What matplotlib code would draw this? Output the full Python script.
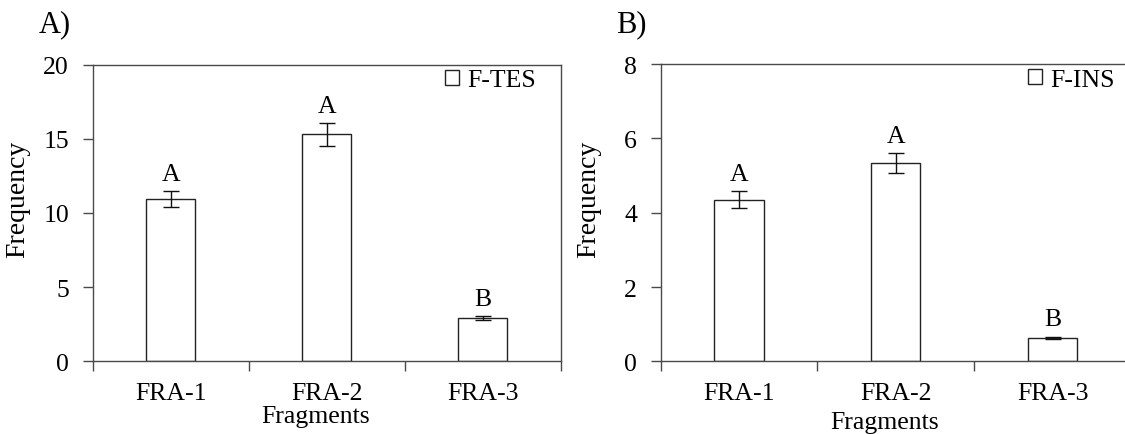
import matplotlib
matplotlib.use("Agg")
import matplotlib.pyplot as plt
import numpy as np

# =====================
# Data
# =====================
fragments = ["FRA-1", "FRA-2", "FRA-3"]

tes_mean = [10.93, 15.32, 2.90]
tes_err = [0.55, 0.78, 0.15]
tes_letters = ["A", "A", "B"]

ins_mean = [4.35, 5.35, 0.64]
ins_err = [0.23, 0.27, 0.03]
ins_letters = ["A", "A", "B"]

plt.rcParams["font.family"] = ["Liberation Serif", "DejaVu Serif"]

frame_col = "#4a4a4a"


def draw_panel(ax, means, errs, letters, label, ymax, step, ylab_x, xlab_y, leg_x):
    x = np.arange(len(means)) + 0.5
    bars = ax.bar(x, means, width=0.314, color="white", edgecolor="#222222",
                  linewidth=1.0, label=label, zorder=2)
    ax.errorbar(x, means, yerr=errs, fmt="none", ecolor="#111111",
                elinewidth=1.0, capsize=6, capthick=1.0, zorder=3)
    for xi, m, e, t in zip(x, means, errs, letters):
        ax.annotate(t, (xi, m + e), xytext=(0, 8), textcoords="offset points",
                    ha="center", va="baseline", fontsize=18.5)

    ax.set_xlim(0, 3)
    ax.set_ylim(0, ymax)
    ax.set_yticks(np.arange(0, ymax + step / 2, step))
    ax.set_xticks(x)
    ax.set_xticklabels(fragments)
    ax.set_xticks([0, 1, 2, 3], minor=True)
    ax.tick_params(axis="x", which="major", length=0, pad=15, labelsize=18.5)
    ax.tick_params(axis="x", which="minor", length=7, width=1, color=frame_col,
                   direction="out")
    ax.tick_params(axis="y", length=7, width=1, color=frame_col, pad=10,
                   labelsize=18.5, direction="out")

    for s in ax.spines.values():
        s.set_color(frame_col)
        s.set_linewidth(1.0)

    ax.set_ylabel("Frequency", fontsize=20)
    ax.yaxis.set_label_coords(ylab_x, 0.55)
    ax.set_xlabel("Fragments", fontsize=18.5)
    ax.xaxis.set_label_coords(0.477, xlab_y)

    ax.legend(handles=[bars], loc="upper left", bbox_to_anchor=(leg_x, 0.985),
              frameon=False, fontsize=18.5, handlelength=0.55, handleheight=0.55,
              handletextpad=0.3, borderpad=0, borderaxespad=0)


fig = plt.figure(figsize=(11.25, 4.35), dpi=100)

axA = fig.add_axes([0.0824, 0.1678, 0.416, 0.6805])
draw_panel(axA, tes_mean, tes_err, tes_letters, "F-TES", 20, 5, -0.133, -0.15, 0.753)

axB = fig.add_axes([0.5873, 0.1667, 0.418, 0.6835])
draw_panel(axB, ins_mean, ins_err, ins_letters, "F-INS", 8, 2, -0.127, -0.165, 0.781)

fig.text(39 / 1125, 1 - 32 / 435, "A)", fontsize=22, va="baseline", ha="left")
fig.text(616 / 1125, 1 - 32 / 435, "B)", fontsize=22, va="baseline", ha="left")

plt.savefig("out.png", dpi=100)
